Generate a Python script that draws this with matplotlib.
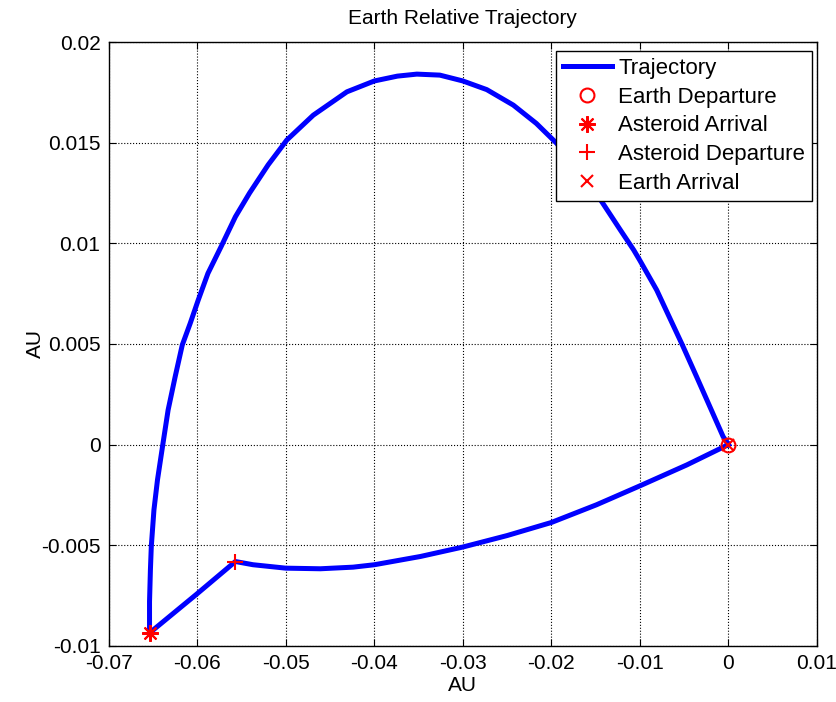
import matplotlib
matplotlib.use("Agg")
import matplotlib.pyplot as plt
import numpy as np

plt.rcParams['font.family'] = ['Liberation Sans', 'DejaVu Sans']

# trajectory relative to Earth, AU (departure -> asteroid -> back to Earth)
traj_x = [0.0, -0.0006, -0.0021, -0.0036, -0.0052, -0.0067, -0.0081, -0.0100,
          -0.0107, -0.0122, -0.0145, -0.0170, -0.0194, -0.0217, -0.0243,
          -0.0273, -0.0300, -0.0326, -0.0352, -0.0374, -0.0400, -0.0431,
          -0.0469, -0.0499, -0.0508, -0.0520, -0.0541, -0.0557, -0.0573,
          -0.0588, -0.0599, -0.0608, -0.0617, -0.0625, -0.0633, -0.0639,
          -0.0645, -0.0649, -0.0652, -0.0653, -0.0654, -0.0654,
          -0.0601, -0.0557, -0.0537, -0.0500, -0.0461, -0.0424, -0.0400,
          -0.0348, -0.0300, -0.0250, -0.0200, -0.0149, -0.0100, -0.0047, 0.0]
traj_y = [0.0, 0.0004, 0.00189, 0.00338, 0.00495, 0.00636, 0.00768, 0.00915,
          0.00967, 0.01066, 0.0122, 0.0137, 0.01497, 0.01596, 0.01687,
          0.01764, 0.01807, 0.01836, 0.01841, 0.01831, 0.01807, 0.01753,
          0.01637, 0.01513, 0.0146, 0.0139, 0.0125, 0.01132, 0.00985,
          0.00851, 0.00718, 0.00603, 0.00495, 0.00338, 0.00172, 0.0,
          -0.00175, -0.00324, -0.00506, -0.00622, -0.0078, -0.00936,
          -0.00744, -0.00581, -0.00597, -0.00614, -0.00617, -0.00609, -0.00597,
          -0.00556, -0.00509, -0.00452, -0.00387, -0.00299, -0.00205, -0.00101, 0.0]

earth_dep = (0.0, 0.0)
ast_arr = (-0.0654, -0.00936)
ast_dep = (-0.0557, -0.00581)
earth_arr = (0.0, 0.0)

fig = plt.figure(figsize=(8.37, 7.02), dpi=100)
ax = fig.add_axes([0.130, 0.080, 0.846, 0.860])

ax.plot(traj_x, traj_y, color='#0000ff', lw=3.6, label='Trajectory', zorder=3,
        solid_joinstyle='round')
ms = 10
ax.plot(*earth_dep, 'o', mfc='none', mec='red', ms=ms, mew=1.5, ls='none',
        label='Earth Departure', zorder=4)
ax.plot(*ast_arr, marker=(8, 2, 0), color='red', ms=ms + 2, mew=1.5, ls='none',
        label='Asteroid Arrival', zorder=4)
ax.plot(*ast_dep, '+', color='red', ms=ms + 2, mew=1.5, ls='none',
        label='Asteroid Departure', zorder=4)
ax.plot(*earth_arr, 'x', color='red', ms=ms - 2, mew=1.5, ls='none',
        label='Earth Arrival', zorder=4)

ax.set_xlim(-0.07, 0.01)
ax.set_ylim(-0.01, 0.02)
ax.set_xticks(np.arange(-0.07, 0.0101, 0.01))
ax.set_yticks(np.arange(-0.01, 0.0201, 0.005))
ax.set_xticklabels(['-0.07', '-0.06', '-0.05', '-0.04', '-0.03', '-0.02', '-0.01', '0', '0.01'])
ax.set_yticklabels(['-0.01', '-0.005', '0', '0.005', '0.01', '0.015', '0.02'])
ax.tick_params(direction='in', top=True, right=True, labelsize=15, length=5, pad=6)
ax.grid(True, ls=':', color='black', lw=0.8)
for s in ax.spines.values():
    s.set_linewidth(1.0)

ax.set_title('Earth Relative Trajectory', fontsize=15, pad=13)
ax.set_xlabel('AU', fontsize=15, labelpad=2)
ax.set_ylabel('AU', fontsize=15, labelpad=-3)

leg = ax.legend(loc='upper right', bbox_to_anchor=(0.993, 0.985), fontsize=16,
                fancybox=False, framealpha=1, edgecolor='black', borderpad=0.3,
                labelspacing=0.35, handlelength=2.2, handletextpad=0.3,
                borderaxespad=0)
leg.get_frame().set_linewidth(1.0)

fig.savefig('out.png', dpi=100)
